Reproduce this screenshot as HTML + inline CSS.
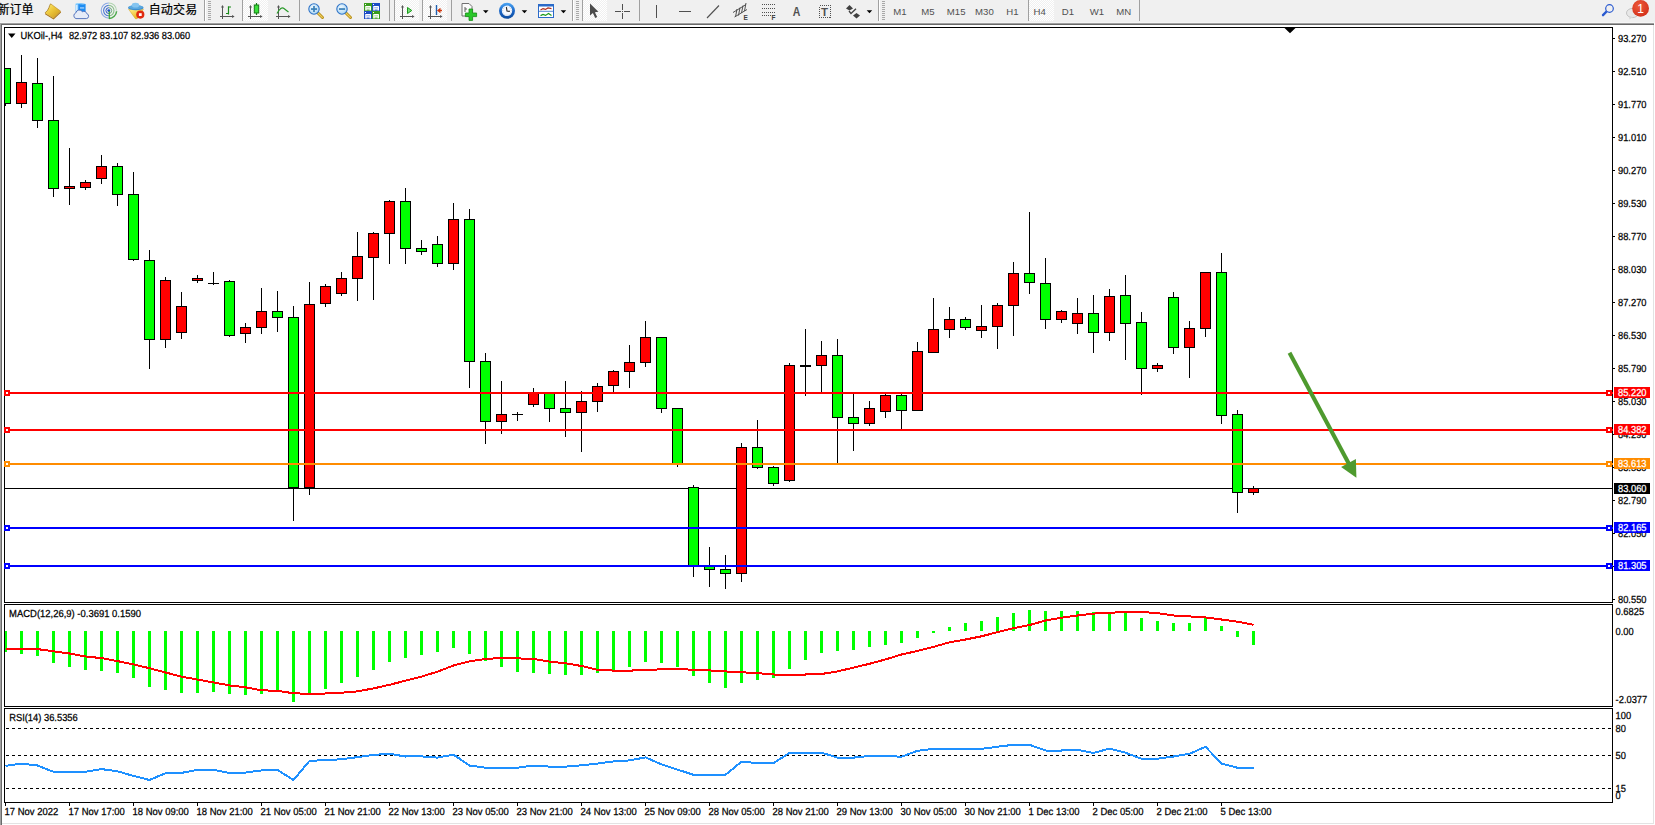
<!DOCTYPE html>
<html lang="zh"><head><meta charset="utf-8"><title>UKOil-,H4</title>
<style>
html,body{margin:0;padding:0;background:#fff;}
body{width:1655px;height:825px;position:relative;overflow:hidden;font-family:"Liberation Sans","Noto Sans CJK SC",sans-serif;}
#tb{position:absolute;left:0;top:0;width:1655px;height:22px;background:#f0f0f0;}
.ln{position:absolute;left:0;height:1px;}
.vl{position:absolute;width:1px;}
</style></head><body>
<div id="tb"></div>
<div class="ln" style="top:22px;width:1655px;background:#f6f6f6"></div>
<div class="ln" style="top:23px;width:1654px;background:#a0a0a0"></div>
<div class="ln" style="top:24px;width:1654px;background:#696969"></div>
<div class="vl" style="left:0;top:23px;height:802px;background:#a0a0a0"></div>
<div class="vl" style="left:1px;top:24px;height:801px;background:#696969"></div>
<div class="vl" style="left:1653px;top:25px;height:799px;background:#e3e3e3"></div>
<div class="ln" style="top:823px;left:2px;width:1652px;background:#e3e3e3"></div>
<svg width="1655" height="25" viewBox="0 0 1655 25" style="position:absolute;left:0;top:0"><defs>
<pattern id="chk" width="2" height="2" patternUnits="userSpaceOnUse"><rect width="2" height="2" fill="#f0f0f0"/><rect width="1" height="1" fill="#fff"/><rect x="1" y="1" width="1" height="1" fill="#fff"/></pattern>
<radialGradient id="redc" cx="0.4" cy="0.35" r="0.7"><stop offset="0" stop-color="#ee5a3a"/><stop offset="1" stop-color="#d2301a"/></radialGradient>
<linearGradient id="gold" x1="0" y1="0" x2="1" y2="1"><stop offset="0" stop-color="#fff27a"/><stop offset="0.45" stop-color="#ecc63a"/><stop offset="1" stop-color="#c8921a"/></linearGradient>
<radialGradient id="lens" cx="0.4" cy="0.35" r="0.7"><stop offset="0" stop-color="#eef8ff"/><stop offset="1" stop-color="#a8d4f2"/></radialGradient>
<linearGradient id="clk" x1="0" y1="0" x2="0" y2="1"><stop offset="0" stop-color="#4aa4f4"/><stop offset="0.55" stop-color="#1a64c4"/><stop offset="1" stop-color="#0c4a9c"/></linearGradient>
<linearGradient id="gold2" x1="0" y1="0" x2="0.6" y2="1"><stop offset="0" stop-color="#fff08a"/><stop offset="1" stop-color="#e8b41c"/></linearGradient>
</defs>
<text x="-2.5" y="14.3" font-family="Liberation Sans, Noto Sans CJK SC, sans-serif" font-size="12" fill="#000" stroke="#000" stroke-width="0.2">新订单</text>
<text x="148.7" y="14.3" font-family="Liberation Sans, Noto Sans CJK SC, sans-serif" font-size="12" letter-spacing="0.15" fill="#000" stroke="#000" stroke-width="0.2">自动交易</text>
<g><path d="M50.6,3.8 L60.7,11.2 L53.4,18.2 L45,12.9 Q48,10.6 49,7.5 Q49.6,5.2 50.6,3.8 Z" fill="url(#gold)"/><path d="M45,12.9 L53.4,18.2 L60.7,11.2 L61,12.5 L53.6,19.5 L45.1,14.2 Z" fill="#a87214"/><path d="M50.6,3.8 Q49.6,5.2 49,7.5 Q48,10.6 45,12.9" stroke="#9a6a10" stroke-width="0.7" fill="none"/><path d="M50.6,3.8 L60.7,11.2" stroke="#b8861a" stroke-width="0.6"/></g>
<g><polygon points="75.5,3.7 78.2,3 78.2,13 75.5,12.3" fill="#7cc8ff"/><polygon points="78.2,3 85.6,4 85.6,13.6 78.2,13" fill="#1f8df2"/><polygon points="75.5,3.7 78.2,3 85.6,4 83,4.5" fill="#9ad8ff"/><rect x="80" y="7.5" width="4.2" height="0.9" fill="#e8f4ff"/><rect x="76.2" y="5" width="1.2" height="6" fill="#eaf6ff"/><path d="M76,18.6 a3,3 0 0 1 -0.2,-5.7 a3.6,3.6 0 0 1 6.6,-1.2 a3,3 0 0 1 4.4,2 a2.5,2.5 0 0 1 -0.4,4.9 Z" fill="#e6ecf8" stroke="#4a6ab8" stroke-width="0.9"/></g>
<g transform="translate(108.8,10.6)" fill="none"><path d="M0,-7.6 A7.6,7.6 0 0 0 0,7.6" stroke="#8aa8e4" stroke-width="1.1"/><path d="M0,-7.6 A7.6,7.6 0 0 1 7.6,0" stroke="#b0d4b0" stroke-width="1.1"/><path d="M0,-5.2 A5.2,5.2 0 0 0 0,5.2" stroke="#4a78d4" stroke-width="1.1"/><path d="M0,-5.2 A5.2,5.2 0 0 1 0,5.2" stroke="#8ac08a" stroke-width="1.1"/><path d="M0,-2.9 A2.9,2.9 0 0 0 0,2.9" stroke="#2a5ac8" stroke-width="1"/><path d="M0,-2.9 A2.9,2.9 0 0 1 0,2.9" stroke="#6aa87a" stroke-width="1"/><circle r="1.4" fill="#1a50c8"/><path d="M0.3,7.8 A7.8,7.8 0 0 0 7.8,0.6" stroke="#4aa84a" stroke-width="1.5"/><rect x="-0.1" y="0.6" width="1.1" height="7.6" fill="#2a9a2a"/></g>
<g><polygon points="128.6,9.2 143.4,9.2 137.2,18.7 135.4,18.7" fill="url(#gold2)" stroke="#d0a020" stroke-width="0.5"/><ellipse cx="135.8" cy="7.7" rx="7.8" ry="2.5" fill="#3f8fd0"/><ellipse cx="135.8" cy="7.1" rx="7.2" ry="2" fill="#5aa8e0"/><ellipse cx="135.5" cy="5.2" rx="3.7" ry="2.4" fill="#84c4f0"/><circle cx="140.3" cy="14.6" r="4.1" fill="#e02a10"/><rect x="138.9" y="13.2" width="2.8" height="2.8" fill="#fff"/></g>
<rect x="204" y="0" width="1" height="21" fill="#a0a0a0" shape-rendering="crispEdges"/>
<rect x="205" y="0" width="1" height="21" fill="#ffffff" shape-rendering="crispEdges"/>
<rect x="208" y="1" width="3" height="1" fill="#a8a8a8" shape-rendering="crispEdges"/>
<rect x="208" y="3" width="3" height="1" fill="#a8a8a8" shape-rendering="crispEdges"/>
<rect x="208" y="5" width="3" height="1" fill="#a8a8a8" shape-rendering="crispEdges"/>
<rect x="208" y="7" width="3" height="1" fill="#a8a8a8" shape-rendering="crispEdges"/>
<rect x="208" y="9" width="3" height="1" fill="#a8a8a8" shape-rendering="crispEdges"/>
<rect x="208" y="11" width="3" height="1" fill="#a8a8a8" shape-rendering="crispEdges"/>
<rect x="208" y="13" width="3" height="1" fill="#a8a8a8" shape-rendering="crispEdges"/>
<rect x="208" y="15" width="3" height="1" fill="#a8a8a8" shape-rendering="crispEdges"/>
<rect x="208" y="17" width="3" height="1" fill="#a8a8a8" shape-rendering="crispEdges"/>
<rect x="208" y="19" width="3" height="1" fill="#a8a8a8" shape-rendering="crispEdges"/>
<g fill="#555" shape-rendering="crispEdges"><rect x="222" y="6" width="1" height="13"/><rect x="220" y="16" width="14" height="1"/></g>
<g fill="#555"><polygon points="222.5,4.9 221,7.6 224,7.6"/><polygon points="234.6,16.5 232,15 232,18"/></g>
<g stroke="#1a8a1a" stroke-width="1.2" fill="none"><path d="M228.5,6.3 V14.6 M228.5,7 H231 M226,13.5 H228.5"/></g>
<rect x="242" y="0" width="1" height="21" fill="#a0a0a0" shape-rendering="crispEdges"/>
<rect x="243" y="0" width="25" height="21" fill="url(#chk)" shape-rendering="crispEdges"/>
<g fill="#555" shape-rendering="crispEdges"><rect x="250" y="6" width="1" height="13"/><rect x="248" y="16" width="14" height="1"/></g>
<g fill="#555"><polygon points="250.5,4.9 249,7.6 252,7.6"/><polygon points="262.6,16.5 260,15 260,18"/></g>
<line x1="256.5" y1="3" x2="256.5" y2="15" stroke="#157a15" stroke-width="1.2"/><rect x="254.3" y="5" width="4.4" height="8" fill="#3ae03a" stroke="#157a15" stroke-width="1"/>
<g fill="#555" shape-rendering="crispEdges"><rect x="278" y="6" width="1" height="13"/><rect x="276" y="16" width="14" height="1"/></g>
<g fill="#555"><polygon points="278.5,4.9 277,7.6 280,7.6"/><polygon points="290.6,16.5 288,15 288,18"/></g>
<path d="M277,13.5 Q281,6 284,8.5 T288.5,12" stroke="#2a9a2a" stroke-width="1.15" fill="none"/>
<rect x="299" y="0" width="1" height="21" fill="#a0a0a0" shape-rendering="crispEdges"/>
<g transform="translate(308,3)"><line x1="9" y1="9" x2="14.5" y2="14.5" stroke="#b8901a" stroke-width="3" stroke-linecap="round"/><line x1="9.3" y1="9.3" x2="14.3" y2="14.3" stroke="#f0d060" stroke-width="1.2" stroke-linecap="round"/><circle cx="6" cy="6" r="5.2" fill="url(#lens)" stroke="#2f74c8" stroke-width="1.1"/><rect x="3" y="5.2" width="6" height="1.7" fill="#3a80b8"/><rect x="5.15" y="3" width="1.7" height="6" fill="#3a80b8"/></g>
<g transform="translate(336,3)"><line x1="9" y1="9" x2="14.5" y2="14.5" stroke="#b8901a" stroke-width="3" stroke-linecap="round"/><line x1="9.3" y1="9.3" x2="14.3" y2="14.3" stroke="#f0d060" stroke-width="1.2" stroke-linecap="round"/><circle cx="6" cy="6" r="5.2" fill="url(#lens)" stroke="#2f74c8" stroke-width="1.1"/><rect x="3" y="5.2" width="6" height="1.7" fill="#3a80b8"/></g>
<g transform="translate(364,3)"><rect x="0" y="0" width="8" height="8" fill="#3a9c1c"/><rect x="8" y="0" width="8" height="8" fill="#1c4cc4"/><rect x="0" y="8" width="8" height="8" fill="#1c4cc4"/><rect x="8" y="8" width="8" height="8" fill="#3a9c1c"/><g fill="#fff"><rect x="1.2" y="3" width="5.8" height="4.6" rx="0.6"/><rect x="9.2" y="3" width="5.8" height="4.6" rx="0.6"/><rect x="1.2" y="11" width="5.8" height="4.6" rx="0.6"/><rect x="9.2" y="11" width="5.8" height="4.6" rx="0.6"/><rect x="1" y="1" width="1" height="1"/><rect x="9" y="1" width="1" height="1"/><rect x="1" y="9" width="1" height="1"/><rect x="9" y="9" width="1" height="1"/></g><g fill="#9ad080"><rect x="2.2" y="4.4" width="3.8" height="0.9"/><rect x="10.2" y="12.4" width="3.8" height="0.9"/></g><g fill="#7a98e4"><rect x="10.2" y="4.4" width="3.8" height="0.9"/><rect x="2.2" y="12.4" width="3.8" height="0.9"/></g><g fill="#3a9c1c"><rect x="2.6" y="6.6" width="3" height="1"/><rect x="10.6" y="14.6" width="3" height="1"/></g><g fill="#1c4cc4"><rect x="10.6" y="6.6" width="3" height="1"/><rect x="2.6" y="14.6" width="3" height="1"/></g></g>
<rect x="389" y="0" width="1" height="21" fill="#a0a0a0" shape-rendering="crispEdges"/>
<rect x="394" y="0" width="1" height="21" fill="#a0a0a0" shape-rendering="crispEdges"/>
<rect x="395" y="0" width="24" height="21" fill="url(#chk)" shape-rendering="crispEdges"/>
<g fill="#555" shape-rendering="crispEdges"><rect x="402" y="6" width="1" height="13"/><rect x="400" y="16" width="14" height="1"/></g>
<g fill="#555"><polygon points="402.5,4.9 401,7.6 404,7.6"/><polygon points="414.6,16.5 412,15 412,18"/></g>
<polygon points="407.5,7.5 407.5,13.5 411.8,10.5" fill="#7ae07a" stroke="#1a9a1a" stroke-width="1"/>
<rect x="422" y="0" width="1" height="21" fill="#a0a0a0" shape-rendering="crispEdges"/>
<rect x="423" y="0" width="24" height="21" fill="url(#chk)" shape-rendering="crispEdges"/>
<g fill="#555" shape-rendering="crispEdges"><rect x="430" y="6" width="1" height="13"/><rect x="428" y="16" width="14" height="1"/></g>
<g fill="#555"><polygon points="430.5,4.9 429,7.6 432,7.6"/><polygon points="442.6,16.5 440,15 440,18"/></g>
<line x1="436.5" y1="5" x2="436.5" y2="15" stroke="#2060b0" stroke-width="1.4"/><path d="M442,10.5 H438.5 M440.5,8.5 L438,10.5 L440.5,12.5" stroke="#d03a10" stroke-width="1.3" fill="none"/>
<rect x="451" y="0" width="1" height="21" fill="#a0a0a0" shape-rendering="crispEdges"/>
<g transform="translate(461,3)"><path d="M1,0.5 H8 L11,3.5 V13 H1 Z" fill="#fafafa" stroke="#707070" stroke-width="1"/><path d="M4,4 V9 M4,6 H6" stroke="#606060" stroke-width="1" fill="none"/><path d="M8,6 H11.6 V10 H15.6 V13.6 H11.6 V17.4 H8 V13.6 H4.4 V10 H8 Z" fill="#2ac82a" stroke="#148a14" stroke-width="0.8"/></g>
<polygon points="483,10.2 488.5,10.2 485.75,13.2" fill="#000"/>
<g transform="translate(507,10.8)"><circle r="8" fill="url(#clk)"/><circle r="5.2" fill="#f6f9ff"/><g fill="#9aa4b4"><circle cx="0" cy="-4.2" r="0.45"/><circle cx="4.2" cy="0" r="0.45"/><circle cx="0" cy="4.2" r="0.45"/><circle cx="-4.2" cy="0" r="0.45"/><circle cx="2.1" cy="-3.6" r="0.35"/><circle cx="3.6" cy="2.1" r="0.35"/><circle cx="-2.1" cy="3.6" r="0.35"/><circle cx="-3.6" cy="-2.1" r="0.35"/><circle cx="-2.1" cy="-3.6" r="0.35"/><circle cx="3.6" cy="-2.1" r="0.35"/><circle cx="2.1" cy="3.6" r="0.35"/><circle cx="-3.6" cy="2.1" r="0.35"/></g><path d="M-0.6,-3.6 L0,0.2 L2.8,0.6" stroke="#202020" stroke-width="1.1" fill="none"/></g>
<polygon points="521.7,10.2 527.2,10.2 524.45,13.2" fill="#000"/>
<g transform="translate(538,4)"><rect x="0.5" y="0.5" width="15" height="13" fill="#fff" stroke="#2a6ac8" stroke-width="1"/><rect x="0.5" y="0.5" width="15" height="2" fill="#2a6ac8"/><line x1="1" y1="7.3" x2="15" y2="7.3" stroke="#2a6ac8" stroke-width="0.8"/><path d="M2.5,6 L5,4.6 L7.5,5.4 L10,4 L13.5,4.6" stroke="#b02a1a" stroke-width="1.2" fill="none"/><path d="M2.5,11.6 L5,10.4 L7.5,11.4 L10.5,9.4 L13.5,11.4" stroke="#1a9a1a" stroke-width="1.2" fill="none"/></g>
<polygon points="560.7,10.2 566.2,10.2 563.45,13.2" fill="#000"/>
<rect x="572" y="0" width="1" height="21" fill="#a0a0a0" shape-rendering="crispEdges"/>
<rect x="573" y="0" width="1" height="21" fill="#ffffff" shape-rendering="crispEdges"/>
<rect x="576" y="1" width="3" height="1" fill="#a8a8a8" shape-rendering="crispEdges"/>
<rect x="576" y="3" width="3" height="1" fill="#a8a8a8" shape-rendering="crispEdges"/>
<rect x="576" y="5" width="3" height="1" fill="#a8a8a8" shape-rendering="crispEdges"/>
<rect x="576" y="7" width="3" height="1" fill="#a8a8a8" shape-rendering="crispEdges"/>
<rect x="576" y="9" width="3" height="1" fill="#a8a8a8" shape-rendering="crispEdges"/>
<rect x="576" y="11" width="3" height="1" fill="#a8a8a8" shape-rendering="crispEdges"/>
<rect x="576" y="13" width="3" height="1" fill="#a8a8a8" shape-rendering="crispEdges"/>
<rect x="576" y="15" width="3" height="1" fill="#a8a8a8" shape-rendering="crispEdges"/>
<rect x="576" y="17" width="3" height="1" fill="#a8a8a8" shape-rendering="crispEdges"/>
<rect x="576" y="19" width="3" height="1" fill="#a8a8a8" shape-rendering="crispEdges"/>
<rect x="582" y="0" width="1" height="21" fill="#a0a0a0" shape-rendering="crispEdges"/>
<rect x="583" y="0" width="24" height="21" fill="url(#chk)" shape-rendering="crispEdges"/>
<polygon points="590,3.6 590,15.5 592.9,13 595.2,18 597.2,17.1 594.9,12.2 598.4,11.8" fill="#4c4c4c"/>
<g fill="#505050" shape-rendering="crispEdges"><rect x="622" y="4" width="1" height="6"/><rect x="622" y="13" width="1" height="6"/><rect x="615" y="11" width="6" height="1"/><rect x="624" y="11" width="6" height="1"/><rect x="622" y="11" width="1" height="1"/></g>
<rect x="639" y="0" width="1" height="21" fill="#a0a0a0" shape-rendering="crispEdges"/>
<rect x="656" y="5" width="1" height="13" fill="#505050" shape-rendering="crispEdges"/>
<rect x="679" y="11" width="12" height="1" fill="#505050" shape-rendering="crispEdges"/>
<line x1="707" y1="18" x2="719" y2="5.5" stroke="#505050" stroke-width="1.1"/>
<g stroke="#505050" stroke-width="1" fill="none"><line x1="733" y1="12.5" x2="746" y2="4.5"/><line x1="734.5" y1="17" x2="747" y2="9.5"/><line x1="737" y1="9" x2="735.5" y2="17"/><line x1="740" y1="7.5" x2="738.5" y2="15.5"/><line x1="743" y1="5.5" x2="741.5" y2="13"/><line x1="746" y1="3" x2="744.5" y2="11"/></g>
<text x="743.6" y="20" font-family="Liberation Sans, sans-serif" font-size="6.5" font-weight="bold" fill="#404040">E</text>
<line x1="762" y1="4.5" x2="775" y2="4.5" stroke="#505050" stroke-width="1" stroke-dasharray="1,1" shape-rendering="crispEdges"/>
<line x1="762" y1="8.5" x2="775" y2="8.5" stroke="#505050" stroke-width="1" stroke-dasharray="1,1" shape-rendering="crispEdges"/>
<line x1="762" y1="12.5" x2="775" y2="12.5" stroke="#505050" stroke-width="1" stroke-dasharray="1,1" shape-rendering="crispEdges"/>
<line x1="762" y1="15.5" x2="775" y2="15.5" stroke="#505050" stroke-width="1" stroke-dasharray="1,1" shape-rendering="crispEdges"/>
<text x="771.6" y="20" font-family="Liberation Sans, sans-serif" font-size="6.5" font-weight="bold" fill="#404040">F</text>
<text x="792.8" y="15.7" font-family="Liberation Sans, sans-serif" font-size="12.5" font-weight="bold" textLength="7.6" lengthAdjust="spacingAndGlyphs" fill="#505050">A</text>
<rect x="819.5" y="5.5" width="11" height="12" fill="none" stroke="#505050" stroke-width="1" stroke-dasharray="1,1" shape-rendering="crispEdges"/>
<text x="821" y="16.2" font-family="Liberation Sans, sans-serif" font-size="11.5" font-weight="bold" fill="#505050">T</text>
<g fill="#404040"><polygon points="849.5,5 853,8.5 849.5,10.5 846,8.5"/><polygon points="856.5,13 860,15.5 856.5,18.5 853,15.5"/><path d="M849,11 L851,13.5 L856,8.8" stroke="#404040" stroke-width="1.3" fill="none"/></g>
<polygon points="866.7,10.2 872.2,10.2 869.45,13.2" fill="#000"/>
<rect x="878" y="0" width="1" height="21" fill="#a0a0a0" shape-rendering="crispEdges"/>
<rect x="879" y="0" width="1" height="21" fill="#ffffff" shape-rendering="crispEdges"/>
<rect x="882" y="1" width="3" height="1" fill="#a8a8a8" shape-rendering="crispEdges"/>
<rect x="882" y="3" width="3" height="1" fill="#a8a8a8" shape-rendering="crispEdges"/>
<rect x="882" y="5" width="3" height="1" fill="#a8a8a8" shape-rendering="crispEdges"/>
<rect x="882" y="7" width="3" height="1" fill="#a8a8a8" shape-rendering="crispEdges"/>
<rect x="882" y="9" width="3" height="1" fill="#a8a8a8" shape-rendering="crispEdges"/>
<rect x="882" y="11" width="3" height="1" fill="#a8a8a8" shape-rendering="crispEdges"/>
<rect x="882" y="13" width="3" height="1" fill="#a8a8a8" shape-rendering="crispEdges"/>
<rect x="882" y="15" width="3" height="1" fill="#a8a8a8" shape-rendering="crispEdges"/>
<rect x="882" y="17" width="3" height="1" fill="#a8a8a8" shape-rendering="crispEdges"/>
<rect x="882" y="19" width="3" height="1" fill="#a8a8a8" shape-rendering="crispEdges"/>
<rect x="1028" y="0" width="1" height="21" fill="#a0a0a0" shape-rendering="crispEdges"/>
<rect x="1029" y="0" width="24.5" height="21" fill="url(#chk)" shape-rendering="crispEdges"/>
<text x="899.9" y="14.7" text-anchor="middle" font-family="Liberation Sans, sans-serif" font-size="9.6" fill="#505050">M1</text>
<text x="928" y="14.7" text-anchor="middle" font-family="Liberation Sans, sans-serif" font-size="9.6" fill="#505050">M5</text>
<text x="956.2" y="14.7" text-anchor="middle" font-family="Liberation Sans, sans-serif" font-size="9.6" fill="#505050">M15</text>
<text x="984.4" y="14.7" text-anchor="middle" font-family="Liberation Sans, sans-serif" font-size="9.6" fill="#505050">M30</text>
<text x="1012.4" y="14.7" text-anchor="middle" font-family="Liberation Sans, sans-serif" font-size="9.6" fill="#505050">H1</text>
<text x="1039.7" y="14.7" text-anchor="middle" font-family="Liberation Sans, sans-serif" font-size="9.6" fill="#505050">H4</text>
<text x="1068" y="14.7" text-anchor="middle" font-family="Liberation Sans, sans-serif" font-size="9.6" fill="#505050">D1</text>
<text x="1097" y="14.7" text-anchor="middle" font-family="Liberation Sans, sans-serif" font-size="9.6" fill="#505050">W1</text>
<text x="1123.7" y="14.7" text-anchor="middle" font-family="Liberation Sans, sans-serif" font-size="9.6" fill="#505050">MN</text>
<rect x="1139" y="0" width="1" height="21" fill="#a0a0a0" shape-rendering="crispEdges"/>
<g><line x1="1603" y1="15.2" x2="1607" y2="11" stroke="#2a5ad0" stroke-width="2.4" stroke-linecap="round"/><circle cx="1609.5" cy="8.5" r="3.8" fill="#f0f0f0" stroke="#2a5ad0" stroke-width="1.2"/></g>
<g><ellipse cx="1632.5" cy="13" rx="6" ry="4.6" fill="#e8e8e8" stroke="#b8b8b8" stroke-width="0.8"/><polygon points="1629,16.5 1629.5,19.5 1633,17" fill="#d8d8d8"/><circle cx="1640.6" cy="8.4" r="8.4" fill="url(#redc)"/>
<text x="1640.6" y="12.6" text-anchor="middle" font-family="Liberation Sans, sans-serif" font-size="12" fill="#fff">1</text></g></svg>
<svg width="1655" height="825" viewBox="0 0 1655 825" style="position:absolute;left:0;top:0"><g shape-rendering="crispEdges">
<rect x="4" y="27" width="1609" height="1" fill="#000"/>
<rect x="4" y="602" width="1609" height="1" fill="#000"/>
<rect x="4" y="27" width="1" height="576" fill="#000"/>
<rect x="1612" y="27" width="1" height="576" fill="#000"/>
<rect x="4" y="604" width="1609" height="1" fill="#000"/>
<rect x="4" y="706" width="1609" height="1" fill="#000"/>
<rect x="4" y="604" width="1" height="103" fill="#000"/>
<rect x="1612" y="604" width="1" height="103" fill="#000"/>
<rect x="4" y="708" width="1609" height="1" fill="#000"/>
<rect x="4" y="802" width="1609" height="1" fill="#000"/>
<rect x="4" y="708" width="1" height="95" fill="#000"/>
<rect x="1612" y="708" width="1" height="95" fill="#000"/>
<clipPath id="cp"><rect x="5" y="28" width="1607" height="574"/></clipPath>
<rect x="5" y="488" width="1607" height="1" fill="#000"/>
<g clip-path="url(#cp)">
<rect x="5" y="68" width="1" height="38" fill="#000"/>
<rect x="0" y="68" width="11" height="36" fill="#000"/>
<rect x="1" y="69" width="9" height="34" fill="#00ff00"/>
<rect x="21" y="55" width="1" height="53" fill="#000"/>
<rect x="16" y="82" width="11" height="22" fill="#000"/>
<rect x="17" y="83" width="9" height="20" fill="#ff0000"/>
<rect x="37" y="58" width="1" height="70" fill="#000"/>
<rect x="32" y="83" width="11" height="38" fill="#000"/>
<rect x="33" y="84" width="9" height="36" fill="#00ff00"/>
<rect x="53" y="76" width="1" height="121" fill="#000"/>
<rect x="48" y="120" width="11" height="69" fill="#000"/>
<rect x="49" y="121" width="9" height="67" fill="#00ff00"/>
<rect x="69" y="148" width="1" height="57" fill="#000"/>
<rect x="64" y="186" width="11" height="3" fill="#000"/>
<rect x="65" y="187" width="9" height="1" fill="#ff0000"/>
<rect x="85" y="180" width="1" height="10" fill="#000"/>
<rect x="80" y="182" width="11" height="6" fill="#000"/>
<rect x="81" y="183" width="9" height="4" fill="#ff0000"/>
<rect x="101" y="155" width="1" height="29" fill="#000"/>
<rect x="96" y="166" width="11" height="13" fill="#000"/>
<rect x="97" y="167" width="9" height="11" fill="#ff0000"/>
<rect x="117" y="163" width="1" height="43" fill="#000"/>
<rect x="112" y="166" width="11" height="29" fill="#000"/>
<rect x="113" y="167" width="9" height="27" fill="#00ff00"/>
<rect x="133" y="172" width="1" height="89" fill="#000"/>
<rect x="128" y="194" width="11" height="66" fill="#000"/>
<rect x="129" y="195" width="9" height="64" fill="#00ff00"/>
<rect x="149" y="250" width="1" height="119" fill="#000"/>
<rect x="144" y="260" width="11" height="80" fill="#000"/>
<rect x="145" y="261" width="9" height="78" fill="#00ff00"/>
<rect x="165" y="277" width="1" height="71" fill="#000"/>
<rect x="160" y="280" width="11" height="60" fill="#000"/>
<rect x="161" y="281" width="9" height="58" fill="#ff0000"/>
<rect x="181" y="292" width="1" height="47" fill="#000"/>
<rect x="176" y="306" width="11" height="27" fill="#000"/>
<rect x="177" y="307" width="9" height="25" fill="#ff0000"/>
<rect x="197" y="275" width="1" height="8" fill="#000"/>
<rect x="192" y="278" width="11" height="3" fill="#000"/>
<rect x="193" y="279" width="9" height="1" fill="#ff0000"/>
<rect x="213" y="272" width="1" height="13" fill="#000"/>
<rect x="208" y="283" width="11" height="1" fill="#000"/>
<rect x="229" y="280" width="1" height="57" fill="#000"/>
<rect x="224" y="281" width="11" height="55" fill="#000"/>
<rect x="225" y="282" width="9" height="53" fill="#00ff00"/>
<rect x="245" y="323" width="1" height="20" fill="#000"/>
<rect x="240" y="327" width="11" height="7" fill="#000"/>
<rect x="241" y="328" width="9" height="5" fill="#ff0000"/>
<rect x="261" y="288" width="1" height="46" fill="#000"/>
<rect x="256" y="311" width="11" height="17" fill="#000"/>
<rect x="257" y="312" width="9" height="15" fill="#ff0000"/>
<rect x="277" y="291" width="1" height="41" fill="#000"/>
<rect x="272" y="311" width="11" height="7" fill="#000"/>
<rect x="273" y="312" width="9" height="5" fill="#00ff00"/>
<rect x="293" y="306" width="1" height="215" fill="#000"/>
<rect x="288" y="317" width="11" height="171" fill="#000"/>
<rect x="289" y="318" width="9" height="169" fill="#00ff00"/>
<rect x="309" y="282" width="1" height="213" fill="#000"/>
<rect x="304" y="304" width="11" height="184" fill="#000"/>
<rect x="305" y="305" width="9" height="182" fill="#ff0000"/>
<rect x="325" y="284" width="1" height="23" fill="#000"/>
<rect x="320" y="286" width="11" height="18" fill="#000"/>
<rect x="321" y="287" width="9" height="16" fill="#ff0000"/>
<rect x="341" y="272" width="1" height="24" fill="#000"/>
<rect x="336" y="278" width="11" height="16" fill="#000"/>
<rect x="337" y="279" width="9" height="14" fill="#ff0000"/>
<rect x="357" y="232" width="1" height="69" fill="#000"/>
<rect x="352" y="256" width="11" height="23" fill="#000"/>
<rect x="353" y="257" width="9" height="21" fill="#ff0000"/>
<rect x="373" y="232" width="1" height="68" fill="#000"/>
<rect x="368" y="233" width="11" height="25" fill="#000"/>
<rect x="369" y="234" width="9" height="23" fill="#ff0000"/>
<rect x="389" y="200" width="1" height="64" fill="#000"/>
<rect x="384" y="201" width="11" height="33" fill="#000"/>
<rect x="385" y="202" width="9" height="31" fill="#ff0000"/>
<rect x="405" y="188" width="1" height="76" fill="#000"/>
<rect x="400" y="201" width="11" height="48" fill="#000"/>
<rect x="401" y="202" width="9" height="46" fill="#00ff00"/>
<rect x="421" y="240" width="1" height="15" fill="#000"/>
<rect x="416" y="248" width="11" height="4" fill="#000"/>
<rect x="417" y="249" width="9" height="2" fill="#00ff00"/>
<rect x="437" y="236" width="1" height="31" fill="#000"/>
<rect x="432" y="244" width="11" height="20" fill="#000"/>
<rect x="433" y="245" width="9" height="18" fill="#00ff00"/>
<rect x="453" y="203" width="1" height="67" fill="#000"/>
<rect x="448" y="219" width="11" height="45" fill="#000"/>
<rect x="449" y="220" width="9" height="43" fill="#ff0000"/>
<rect x="469" y="209" width="1" height="179" fill="#000"/>
<rect x="464" y="219" width="11" height="143" fill="#000"/>
<rect x="465" y="220" width="9" height="141" fill="#00ff00"/>
<rect x="485" y="353" width="1" height="91" fill="#000"/>
<rect x="480" y="361" width="11" height="61" fill="#000"/>
<rect x="481" y="362" width="9" height="59" fill="#00ff00"/>
<rect x="501" y="381" width="1" height="53" fill="#000"/>
<rect x="496" y="414" width="11" height="8" fill="#000"/>
<rect x="497" y="415" width="9" height="6" fill="#ff0000"/>
<rect x="517" y="412" width="1" height="9" fill="#000"/>
<rect x="512" y="414" width="11" height="1" fill="#000"/>
<rect x="533" y="388" width="1" height="19" fill="#000"/>
<rect x="528" y="393" width="11" height="12" fill="#000"/>
<rect x="529" y="394" width="9" height="10" fill="#ff0000"/>
<rect x="549" y="393" width="1" height="29" fill="#000"/>
<rect x="544" y="393" width="11" height="16" fill="#000"/>
<rect x="545" y="394" width="9" height="14" fill="#00ff00"/>
<rect x="565" y="381" width="1" height="56" fill="#000"/>
<rect x="560" y="408" width="11" height="5" fill="#000"/>
<rect x="561" y="409" width="9" height="3" fill="#00ff00"/>
<rect x="581" y="391" width="1" height="61" fill="#000"/>
<rect x="576" y="401" width="11" height="12" fill="#000"/>
<rect x="577" y="402" width="9" height="10" fill="#ff0000"/>
<rect x="597" y="383" width="1" height="29" fill="#000"/>
<rect x="592" y="386" width="11" height="16" fill="#000"/>
<rect x="593" y="387" width="9" height="14" fill="#ff0000"/>
<rect x="613" y="370" width="1" height="22" fill="#000"/>
<rect x="608" y="371" width="11" height="15" fill="#000"/>
<rect x="609" y="372" width="9" height="13" fill="#ff0000"/>
<rect x="629" y="345" width="1" height="43" fill="#000"/>
<rect x="624" y="362" width="11" height="10" fill="#000"/>
<rect x="625" y="363" width="9" height="8" fill="#ff0000"/>
<rect x="645" y="321" width="1" height="46" fill="#000"/>
<rect x="640" y="337" width="11" height="26" fill="#000"/>
<rect x="641" y="338" width="9" height="24" fill="#ff0000"/>
<rect x="661" y="337" width="1" height="76" fill="#000"/>
<rect x="656" y="337" width="11" height="72" fill="#000"/>
<rect x="657" y="338" width="9" height="70" fill="#00ff00"/>
<rect x="677" y="408" width="1" height="59" fill="#000"/>
<rect x="672" y="408" width="11" height="56" fill="#000"/>
<rect x="673" y="409" width="9" height="54" fill="#00ff00"/>
<rect x="693" y="485" width="1" height="92" fill="#000"/>
<rect x="688" y="487" width="11" height="79" fill="#000"/>
<rect x="689" y="488" width="9" height="77" fill="#00ff00"/>
<rect x="709" y="547" width="1" height="40" fill="#000"/>
<rect x="704" y="566" width="11" height="4" fill="#000"/>
<rect x="705" y="567" width="9" height="2" fill="#00ff00"/>
<rect x="725" y="555" width="1" height="34" fill="#000"/>
<rect x="720" y="569" width="11" height="5" fill="#000"/>
<rect x="721" y="570" width="9" height="3" fill="#00ff00"/>
<rect x="741" y="443" width="1" height="139" fill="#000"/>
<rect x="736" y="447" width="11" height="127" fill="#000"/>
<rect x="737" y="448" width="9" height="125" fill="#ff0000"/>
<rect x="757" y="420" width="1" height="49" fill="#000"/>
<rect x="752" y="447" width="11" height="21" fill="#000"/>
<rect x="753" y="448" width="9" height="19" fill="#00ff00"/>
<rect x="773" y="466" width="1" height="20" fill="#000"/>
<rect x="768" y="467" width="11" height="17" fill="#000"/>
<rect x="769" y="468" width="9" height="15" fill="#00ff00"/>
<rect x="789" y="363" width="1" height="119" fill="#000"/>
<rect x="784" y="365" width="11" height="116" fill="#000"/>
<rect x="785" y="366" width="9" height="114" fill="#ff0000"/>
<rect x="805" y="329" width="1" height="67" fill="#000"/>
<rect x="800" y="365" width="11" height="2" fill="#000"/>
<rect x="821" y="341" width="1" height="51" fill="#000"/>
<rect x="816" y="355" width="11" height="11" fill="#000"/>
<rect x="817" y="356" width="9" height="9" fill="#ff0000"/>
<rect x="837" y="339" width="1" height="124" fill="#000"/>
<rect x="832" y="355" width="11" height="63" fill="#000"/>
<rect x="833" y="356" width="9" height="61" fill="#00ff00"/>
<rect x="853" y="394" width="1" height="57" fill="#000"/>
<rect x="848" y="417" width="11" height="7" fill="#000"/>
<rect x="849" y="418" width="9" height="5" fill="#00ff00"/>
<rect x="869" y="401" width="1" height="25" fill="#000"/>
<rect x="864" y="408" width="11" height="16" fill="#000"/>
<rect x="865" y="409" width="9" height="14" fill="#ff0000"/>
<rect x="885" y="394" width="1" height="24" fill="#000"/>
<rect x="880" y="395" width="11" height="17" fill="#000"/>
<rect x="881" y="396" width="9" height="15" fill="#ff0000"/>
<rect x="901" y="394" width="1" height="35" fill="#000"/>
<rect x="896" y="395" width="11" height="16" fill="#000"/>
<rect x="897" y="396" width="9" height="14" fill="#00ff00"/>
<rect x="917" y="342" width="1" height="69" fill="#000"/>
<rect x="912" y="351" width="11" height="60" fill="#000"/>
<rect x="913" y="352" width="9" height="58" fill="#ff0000"/>
<rect x="933" y="298" width="1" height="55" fill="#000"/>
<rect x="928" y="329" width="11" height="24" fill="#000"/>
<rect x="929" y="330" width="9" height="22" fill="#ff0000"/>
<rect x="949" y="307" width="1" height="31" fill="#000"/>
<rect x="944" y="319" width="11" height="11" fill="#000"/>
<rect x="945" y="320" width="9" height="9" fill="#ff0000"/>
<rect x="965" y="317" width="1" height="13" fill="#000"/>
<rect x="960" y="319" width="11" height="9" fill="#000"/>
<rect x="961" y="320" width="9" height="7" fill="#00ff00"/>
<rect x="981" y="305" width="1" height="33" fill="#000"/>
<rect x="976" y="326" width="11" height="5" fill="#000"/>
<rect x="977" y="327" width="9" height="3" fill="#ff0000"/>
<rect x="997" y="303" width="1" height="46" fill="#000"/>
<rect x="992" y="305" width="11" height="22" fill="#000"/>
<rect x="993" y="306" width="9" height="20" fill="#ff0000"/>
<rect x="1013" y="262" width="1" height="74" fill="#000"/>
<rect x="1008" y="273" width="11" height="33" fill="#000"/>
<rect x="1009" y="274" width="9" height="31" fill="#ff0000"/>
<rect x="1029" y="212" width="1" height="82" fill="#000"/>
<rect x="1024" y="273" width="11" height="10" fill="#000"/>
<rect x="1025" y="274" width="9" height="8" fill="#00ff00"/>
<rect x="1045" y="258" width="1" height="71" fill="#000"/>
<rect x="1040" y="283" width="11" height="37" fill="#000"/>
<rect x="1041" y="284" width="9" height="35" fill="#00ff00"/>
<rect x="1061" y="310" width="1" height="13" fill="#000"/>
<rect x="1056" y="311" width="11" height="9" fill="#000"/>
<rect x="1057" y="312" width="9" height="7" fill="#ff0000"/>
<rect x="1077" y="298" width="1" height="36" fill="#000"/>
<rect x="1072" y="313" width="11" height="11" fill="#000"/>
<rect x="1073" y="314" width="9" height="9" fill="#ff0000"/>
<rect x="1093" y="295" width="1" height="58" fill="#000"/>
<rect x="1088" y="313" width="11" height="20" fill="#000"/>
<rect x="1089" y="314" width="9" height="18" fill="#00ff00"/>
<rect x="1109" y="289" width="1" height="52" fill="#000"/>
<rect x="1104" y="296" width="11" height="37" fill="#000"/>
<rect x="1105" y="297" width="9" height="35" fill="#ff0000"/>
<rect x="1125" y="275" width="1" height="85" fill="#000"/>
<rect x="1120" y="295" width="11" height="29" fill="#000"/>
<rect x="1121" y="296" width="9" height="27" fill="#00ff00"/>
<rect x="1141" y="312" width="1" height="83" fill="#000"/>
<rect x="1136" y="322" width="11" height="47" fill="#000"/>
<rect x="1137" y="323" width="9" height="45" fill="#00ff00"/>
<rect x="1157" y="363" width="1" height="9" fill="#000"/>
<rect x="1152" y="365" width="11" height="4" fill="#000"/>
<rect x="1153" y="366" width="9" height="2" fill="#ff0000"/>
<rect x="1173" y="292" width="1" height="62" fill="#000"/>
<rect x="1168" y="297" width="11" height="51" fill="#000"/>
<rect x="1169" y="298" width="9" height="49" fill="#00ff00"/>
<rect x="1189" y="321" width="1" height="57" fill="#000"/>
<rect x="1184" y="328" width="11" height="20" fill="#000"/>
<rect x="1185" y="329" width="9" height="18" fill="#ff0000"/>
<rect x="1205" y="272" width="1" height="65" fill="#000"/>
<rect x="1200" y="272" width="11" height="57" fill="#000"/>
<rect x="1201" y="273" width="9" height="55" fill="#ff0000"/>
<rect x="1221" y="253" width="1" height="171" fill="#000"/>
<rect x="1216" y="272" width="11" height="144" fill="#000"/>
<rect x="1217" y="273" width="9" height="142" fill="#00ff00"/>
<rect x="1237" y="410" width="1" height="103" fill="#000"/>
<rect x="1232" y="414" width="11" height="79" fill="#000"/>
<rect x="1233" y="415" width="9" height="77" fill="#00ff00"/>
<rect x="1253" y="486" width="1" height="9" fill="#000"/>
<rect x="1248" y="488" width="11" height="5" fill="#000"/>
<rect x="1249" y="489" width="9" height="3" fill="#ff0000"/>
</g>
<rect x="5" y="392" width="1608" height="2" fill="#ff0000"/>
<rect x="4" y="390" width="6" height="6" fill="#ff0000"/>
<rect x="6" y="392" width="2" height="2" fill="#fff"/>
<rect x="1606" y="390" width="6" height="6" fill="#ff0000"/>
<rect x="1608" y="392" width="2" height="2" fill="#fff"/>
<rect x="5" y="429" width="1608" height="2" fill="#ff0000"/>
<rect x="4" y="427" width="6" height="6" fill="#ff0000"/>
<rect x="6" y="429" width="2" height="2" fill="#fff"/>
<rect x="1606" y="427" width="6" height="6" fill="#ff0000"/>
<rect x="1608" y="429" width="2" height="2" fill="#fff"/>
<rect x="5" y="463" width="1608" height="2" fill="#ff8c00"/>
<rect x="4" y="461" width="6" height="6" fill="#ff8c00"/>
<rect x="6" y="463" width="2" height="2" fill="#fff"/>
<rect x="1606" y="461" width="6" height="6" fill="#ff8c00"/>
<rect x="1608" y="463" width="2" height="2" fill="#fff"/>
<rect x="5" y="527" width="1608" height="2" fill="#0000ff"/>
<rect x="4" y="525" width="6" height="6" fill="#0000ff"/>
<rect x="6" y="527" width="2" height="2" fill="#fff"/>
<rect x="1606" y="525" width="6" height="6" fill="#0000ff"/>
<rect x="1608" y="527" width="2" height="2" fill="#fff"/>
<rect x="5" y="565" width="1608" height="2" fill="#0000ff"/>
<rect x="4" y="563" width="6" height="6" fill="#0000ff"/>
<rect x="6" y="565" width="2" height="2" fill="#fff"/>
<rect x="1606" y="563" width="6" height="6" fill="#0000ff"/>
<rect x="1608" y="565" width="2" height="2" fill="#fff"/>
<polygon points="1284.5,28 1295.5,28 1290,33.2" fill="#000" shape-rendering="geometricPrecision"/>
</g>
<rect x="1613" y="38" width="2" height="1" fill="#000" shape-rendering="crispEdges"/>
<text transform="translate(1618,42) rotate(0.05) scale(0.9147,1)" font-family="Liberation Sans, sans-serif" font-size="10.2" fill="#000" stroke="#000" stroke-width="0.25">93.270</text>
<rect x="1613" y="71" width="2" height="1" fill="#000" shape-rendering="crispEdges"/>
<text transform="translate(1618,75) rotate(0.05) scale(0.9147,1)" font-family="Liberation Sans, sans-serif" font-size="10.2" fill="#000" stroke="#000" stroke-width="0.25">92.510</text>
<rect x="1613" y="104" width="2" height="1" fill="#000" shape-rendering="crispEdges"/>
<text transform="translate(1618,108) rotate(0.05) scale(0.9147,1)" font-family="Liberation Sans, sans-serif" font-size="10.2" fill="#000" stroke="#000" stroke-width="0.25">91.770</text>
<rect x="1613" y="137" width="2" height="1" fill="#000" shape-rendering="crispEdges"/>
<text transform="translate(1618,141) rotate(0.05) scale(0.9147,1)" font-family="Liberation Sans, sans-serif" font-size="10.2" fill="#000" stroke="#000" stroke-width="0.25">91.010</text>
<rect x="1613" y="170" width="2" height="1" fill="#000" shape-rendering="crispEdges"/>
<text transform="translate(1618,174) rotate(0.05) scale(0.9147,1)" font-family="Liberation Sans, sans-serif" font-size="10.2" fill="#000" stroke="#000" stroke-width="0.25">90.270</text>
<rect x="1613" y="203" width="2" height="1" fill="#000" shape-rendering="crispEdges"/>
<text transform="translate(1618,207) rotate(0.05) scale(0.9147,1)" font-family="Liberation Sans, sans-serif" font-size="10.2" fill="#000" stroke="#000" stroke-width="0.25">89.530</text>
<rect x="1613" y="236" width="2" height="1" fill="#000" shape-rendering="crispEdges"/>
<text transform="translate(1618,240) rotate(0.05) scale(0.9147,1)" font-family="Liberation Sans, sans-serif" font-size="10.2" fill="#000" stroke="#000" stroke-width="0.25">88.770</text>
<rect x="1613" y="269" width="2" height="1" fill="#000" shape-rendering="crispEdges"/>
<text transform="translate(1618,273) rotate(0.05) scale(0.9147,1)" font-family="Liberation Sans, sans-serif" font-size="10.2" fill="#000" stroke="#000" stroke-width="0.25">88.030</text>
<rect x="1613" y="302" width="2" height="1" fill="#000" shape-rendering="crispEdges"/>
<text transform="translate(1618,306) rotate(0.05) scale(0.9147,1)" font-family="Liberation Sans, sans-serif" font-size="10.2" fill="#000" stroke="#000" stroke-width="0.25">87.270</text>
<rect x="1613" y="335" width="2" height="1" fill="#000" shape-rendering="crispEdges"/>
<text transform="translate(1618,339) rotate(0.05) scale(0.9147,1)" font-family="Liberation Sans, sans-serif" font-size="10.2" fill="#000" stroke="#000" stroke-width="0.25">86.530</text>
<rect x="1613" y="368" width="2" height="1" fill="#000" shape-rendering="crispEdges"/>
<text transform="translate(1618,372) rotate(0.05) scale(0.9147,1)" font-family="Liberation Sans, sans-serif" font-size="10.2" fill="#000" stroke="#000" stroke-width="0.25">85.790</text>
<rect x="1613" y="401" width="2" height="1" fill="#000" shape-rendering="crispEdges"/>
<text transform="translate(1618,405) rotate(0.05) scale(0.9147,1)" font-family="Liberation Sans, sans-serif" font-size="10.2" fill="#000" stroke="#000" stroke-width="0.25">85.030</text>
<rect x="1613" y="434" width="2" height="1" fill="#000" shape-rendering="crispEdges"/>
<text transform="translate(1618,438) rotate(0.05) scale(0.9147,1)" font-family="Liberation Sans, sans-serif" font-size="10.2" fill="#000" stroke="#000" stroke-width="0.25">84.290</text>
<rect x="1613" y="467" width="2" height="1" fill="#000" shape-rendering="crispEdges"/>
<text transform="translate(1618,471) rotate(0.05) scale(0.9147,1)" font-family="Liberation Sans, sans-serif" font-size="10.2" fill="#000" stroke="#000" stroke-width="0.25">83.530</text>
<rect x="1613" y="500" width="2" height="1" fill="#000" shape-rendering="crispEdges"/>
<text transform="translate(1618,504) rotate(0.05) scale(0.9147,1)" font-family="Liberation Sans, sans-serif" font-size="10.2" fill="#000" stroke="#000" stroke-width="0.25">82.790</text>
<rect x="1613" y="533" width="2" height="1" fill="#000" shape-rendering="crispEdges"/>
<text transform="translate(1618,537) rotate(0.05) scale(0.9147,1)" font-family="Liberation Sans, sans-serif" font-size="10.2" fill="#000" stroke="#000" stroke-width="0.25">82.050</text>
<rect x="1613" y="566" width="2" height="1" fill="#000" shape-rendering="crispEdges"/>
<text transform="translate(1618,570) rotate(0.05) scale(0.9147,1)" font-family="Liberation Sans, sans-serif" font-size="10.2" fill="#000" stroke="#000" stroke-width="0.25">81.290</text>
<rect x="1613" y="599" width="2" height="1" fill="#000" shape-rendering="crispEdges"/>
<text transform="translate(1618,603) rotate(0.05) scale(0.9147,1)" font-family="Liberation Sans, sans-serif" font-size="10.2" fill="#000" stroke="#000" stroke-width="0.25">80.550</text>
<rect x="1614" y="387" width="36" height="11" fill="#ff0000" shape-rendering="crispEdges"/>
<text transform="translate(1618,396) rotate(0.05) scale(0.9147,1)" font-family="Liberation Sans, sans-serif" font-size="10.2" fill="#fff" stroke="#fff" stroke-width="0.25">85.220</text>
<rect x="1614" y="424" width="36" height="11" fill="#ff0000" shape-rendering="crispEdges"/>
<text transform="translate(1618,433) rotate(0.05) scale(0.9147,1)" font-family="Liberation Sans, sans-serif" font-size="10.2" fill="#fff" stroke="#fff" stroke-width="0.25">84.382</text>
<rect x="1614" y="458" width="36" height="11" fill="#ff8c00" shape-rendering="crispEdges"/>
<text transform="translate(1618,467) rotate(0.05) scale(0.9147,1)" font-family="Liberation Sans, sans-serif" font-size="10.2" fill="#fff" stroke="#fff" stroke-width="0.25">83.613</text>
<rect x="1614" y="483" width="36" height="11" fill="#000" shape-rendering="crispEdges"/>
<text transform="translate(1618,492) rotate(0.05) scale(0.9147,1)" font-family="Liberation Sans, sans-serif" font-size="10.2" fill="#fff" stroke="#fff" stroke-width="0.25">83.060</text>
<rect x="1614" y="522" width="36" height="11" fill="#0000ff" shape-rendering="crispEdges"/>
<text transform="translate(1618,531) rotate(0.05) scale(0.9147,1)" font-family="Liberation Sans, sans-serif" font-size="10.2" fill="#fff" stroke="#fff" stroke-width="0.25">82.165</text>
<rect x="1614" y="560" width="36" height="11" fill="#0000ff" shape-rendering="crispEdges"/>
<text transform="translate(1618,569) rotate(0.05) scale(0.9147,1)" font-family="Liberation Sans, sans-serif" font-size="10.2" fill="#fff" stroke="#fff" stroke-width="0.25">81.305</text>
<polygon points="8,33.5 15.5,33.5 11.75,38" fill="#000"/>
<text transform="translate(20.6,39) rotate(0.05) scale(0.9147,1)" font-family="Liberation Sans, sans-serif" font-size="10.2" fill="#000" stroke="#000" stroke-width="0.25">UKOil-,H4</text>
<text transform="translate(68.9,39) rotate(0.05) scale(0.9099,1)" font-family="Liberation Sans, sans-serif" font-size="10.2" fill="#000" stroke="#000" stroke-width="0.25">82.972 83.107 82.936 83.060</text>
<g shape-rendering="crispEdges">
<rect x="5" y="631" width="2" height="21" fill="#00ff00"/>
<rect x="20" y="631" width="3" height="23" fill="#00ff00"/>
<rect x="36" y="631" width="3" height="25" fill="#00ff00"/>
<rect x="52" y="631" width="3" height="32" fill="#00ff00"/>
<rect x="68" y="631" width="3" height="36" fill="#00ff00"/>
<rect x="84" y="631" width="3" height="39" fill="#00ff00"/>
<rect x="100" y="631" width="3" height="40" fill="#00ff00"/>
<rect x="116" y="631" width="3" height="42" fill="#00ff00"/>
<rect x="132" y="631" width="3" height="47" fill="#00ff00"/>
<rect x="148" y="631" width="3" height="56" fill="#00ff00"/>
<rect x="164" y="631" width="3" height="59" fill="#00ff00"/>
<rect x="180" y="631" width="3" height="62" fill="#00ff00"/>
<rect x="196" y="631" width="3" height="62" fill="#00ff00"/>
<rect x="212" y="631" width="3" height="61" fill="#00ff00"/>
<rect x="228" y="631" width="3" height="63" fill="#00ff00"/>
<rect x="244" y="631" width="3" height="64" fill="#00ff00"/>
<rect x="260" y="631" width="3" height="63" fill="#00ff00"/>
<rect x="276" y="631" width="3" height="60" fill="#00ff00"/>
<rect x="292" y="631" width="3" height="71" fill="#00ff00"/>
<rect x="308" y="631" width="3" height="64" fill="#00ff00"/>
<rect x="324" y="631" width="3" height="58" fill="#00ff00"/>
<rect x="340" y="631" width="3" height="52" fill="#00ff00"/>
<rect x="356" y="631" width="3" height="46" fill="#00ff00"/>
<rect x="372" y="631" width="3" height="39" fill="#00ff00"/>
<rect x="388" y="631" width="3" height="31" fill="#00ff00"/>
<rect x="404" y="631" width="3" height="27" fill="#00ff00"/>
<rect x="420" y="631" width="3" height="24" fill="#00ff00"/>
<rect x="436" y="631" width="3" height="21" fill="#00ff00"/>
<rect x="452" y="631" width="3" height="17" fill="#00ff00"/>
<rect x="468" y="631" width="3" height="23" fill="#00ff00"/>
<rect x="484" y="631" width="3" height="30" fill="#00ff00"/>
<rect x="500" y="631" width="3" height="36" fill="#00ff00"/>
<rect x="516" y="631" width="3" height="41" fill="#00ff00"/>
<rect x="532" y="631" width="3" height="42" fill="#00ff00"/>
<rect x="548" y="631" width="3" height="43" fill="#00ff00"/>
<rect x="564" y="631" width="3" height="44" fill="#00ff00"/>
<rect x="580" y="631" width="3" height="44" fill="#00ff00"/>
<rect x="596" y="631" width="3" height="42" fill="#00ff00"/>
<rect x="612" y="631" width="3" height="39" fill="#00ff00"/>
<rect x="628" y="631" width="3" height="36" fill="#00ff00"/>
<rect x="644" y="631" width="3" height="31" fill="#00ff00"/>
<rect x="660" y="631" width="3" height="32" fill="#00ff00"/>
<rect x="676" y="631" width="3" height="36" fill="#00ff00"/>
<rect x="692" y="631" width="3" height="45" fill="#00ff00"/>
<rect x="708" y="631" width="3" height="52" fill="#00ff00"/>
<rect x="724" y="631" width="3" height="57" fill="#00ff00"/>
<rect x="740" y="631" width="3" height="52" fill="#00ff00"/>
<rect x="756" y="631" width="3" height="49" fill="#00ff00"/>
<rect x="772" y="631" width="3" height="47" fill="#00ff00"/>
<rect x="788" y="631" width="3" height="38" fill="#00ff00"/>
<rect x="804" y="631" width="3" height="29" fill="#00ff00"/>
<rect x="820" y="631" width="3" height="22" fill="#00ff00"/>
<rect x="836" y="631" width="3" height="20" fill="#00ff00"/>
<rect x="852" y="631" width="3" height="19" fill="#00ff00"/>
<rect x="868" y="631" width="3" height="16" fill="#00ff00"/>
<rect x="884" y="631" width="3" height="14" fill="#00ff00"/>
<rect x="900" y="631" width="3" height="12" fill="#00ff00"/>
<rect x="916" y="631" width="3" height="7" fill="#00ff00"/>
<rect x="932" y="631" width="3" height="2" fill="#00ff00"/>
<rect x="948" y="627" width="3" height="4" fill="#00ff00"/>
<rect x="964" y="623" width="3" height="8" fill="#00ff00"/>
<rect x="980" y="621" width="3" height="10" fill="#00ff00"/>
<rect x="996" y="617" width="3" height="14" fill="#00ff00"/>
<rect x="1012" y="613" width="3" height="18" fill="#00ff00"/>
<rect x="1028" y="610" width="3" height="21" fill="#00ff00"/>
<rect x="1044" y="611" width="3" height="20" fill="#00ff00"/>
<rect x="1060" y="611" width="3" height="20" fill="#00ff00"/>
<rect x="1076" y="611" width="3" height="20" fill="#00ff00"/>
<rect x="1092" y="612" width="3" height="19" fill="#00ff00"/>
<rect x="1108" y="612" width="3" height="19" fill="#00ff00"/>
<rect x="1124" y="612" width="3" height="19" fill="#00ff00"/>
<rect x="1140" y="618" width="3" height="13" fill="#00ff00"/>
<rect x="1156" y="621" width="3" height="10" fill="#00ff00"/>
<rect x="1172" y="623" width="3" height="8" fill="#00ff00"/>
<rect x="1188" y="623" width="3" height="8" fill="#00ff00"/>
<rect x="1204" y="618" width="3" height="13" fill="#00ff00"/>
<rect x="1220" y="626" width="3" height="5" fill="#00ff00"/>
<rect x="1236" y="631" width="3" height="6" fill="#00ff00"/>
<rect x="1252" y="631" width="3" height="14" fill="#00ff00"/>
</g>
<polyline points="5.5,649.1 21.5,649.1 37.5,649.1 53.5,651.3 69.5,653.5 85.5,656.5 101.5,658.1 117.5,661.1 133.5,664.4 149.5,668.2 165.5,672.5 181.5,676.6 197.5,679.6 213.5,682.4 229.5,685.4 245.5,687.3 261.5,690.3 277.5,690.8 293.5,693.3 309.5,693.8 325.5,693.5 341.5,692.7 357.5,691.4 373.5,688.4 389.5,684.8 405.5,680.7 421.5,676.6 437.5,671.7 453.5,665.5 469.5,661.4 485.5,658.9 501.5,658.1 517.5,658.4 533.5,658.9 549.5,661.6 565.5,663.3 581.5,666.0 597.5,669.8 613.5,670.6 629.5,670.6 645.5,670.1 661.5,669.3 677.5,669.0 693.5,669.8 709.5,670.4 725.5,671.4 741.5,672.3 757.5,673.1 773.5,674.5 789.5,674.5 805.5,674.5 821.5,674.0 837.5,671.4 853.5,667.6 869.5,663.8 885.5,659.4 901.5,654.5 917.5,651.0 933.5,646.9 949.5,642.3 965.5,639.5 981.5,636.3 997.5,632.2 1013.5,628.1 1029.5,625.1 1045.5,620.5 1061.5,617.7 1077.5,615.5 1093.5,613.6 1109.5,612.8 1125.5,612.0 1141.5,612.0 1157.5,613.1 1173.5,615.5 1189.5,616.4 1205.5,617.5 1221.5,619.5 1237.5,621.7 1253.5,624.8" fill="none" stroke="#ff0000" stroke-width="2" stroke-linejoin="round" shape-rendering="crispEdges"/>
<text transform="translate(9.1,617) rotate(0.05) scale(0.9272,1)" font-family="Liberation Sans, sans-serif" font-size="10.2" fill="#000" stroke="#000" stroke-width="0.25">MACD(12,26,9) -0.3691 0.1590</text>
<text transform="translate(1615.6,615) rotate(0.05) scale(0.9147,1)" font-family="Liberation Sans, sans-serif" font-size="10.2" fill="#000" stroke="#000" stroke-width="0.25">0.6825</text>
<text transform="translate(1615.6,635) rotate(0.05) scale(0.9147,1)" font-family="Liberation Sans, sans-serif" font-size="10.2" fill="#000" stroke="#000" stroke-width="0.25">0.00</text>
<text transform="translate(1615.6,703) rotate(0.05) scale(0.9147,1)" font-family="Liberation Sans, sans-serif" font-size="10.2" fill="#000" stroke="#000" stroke-width="0.25">-2.0377</text>
<line x1="6" y1="728.5" x2="1612" y2="728.5" stroke="#000" stroke-width="1" stroke-dasharray="3,3" shape-rendering="crispEdges"/>
<line x1="6" y1="755.5" x2="1612" y2="755.5" stroke="#000" stroke-width="1" stroke-dasharray="3,3" shape-rendering="crispEdges"/>
<line x1="6" y1="788.5" x2="1612" y2="788.5" stroke="#000" stroke-width="1" stroke-dasharray="3,3" shape-rendering="crispEdges"/>
<polyline points="5.5,765.8 21.5,763.6 37.5,765.5 53.5,771.8 69.5,771.8 85.5,771.8 101.5,769.1 117.5,771.3 133.5,775.9 149.5,780.0 165.5,773.2 181.5,772.9 197.5,769.9 213.5,769.9 229.5,772.9 245.5,772.6 261.5,770.4 277.5,769.9 293.5,780.0 309.5,760.9 325.5,760.1 341.5,759.3 357.5,757.1 373.5,754.9 389.5,753.8 405.5,756.5 421.5,756.4 437.5,757.6 453.5,754.6 469.5,765.5 485.5,767.7 501.5,767.7 517.5,767.7 533.5,765.5 549.5,766.6 565.5,766.6 581.5,765.3 597.5,763.6 613.5,761.4 629.5,760.4 645.5,757.4 661.5,764.4 677.5,769.6 693.5,774.8 709.5,774.8 725.5,774.8 741.5,761.7 757.5,763.1 773.5,763.1 789.5,753.0 805.5,752.7 821.5,752.7 837.5,757.6 853.5,757.6 869.5,756.0 885.5,755.7 901.5,756.8 917.5,750.8 933.5,748.9 949.5,748.9 965.5,748.9 981.5,748.9 997.5,746.7 1013.5,744.8 1029.5,744.8 1045.5,750.5 1061.5,750.5 1077.5,749.7 1093.5,753.0 1109.5,748.6 1125.5,752.7 1141.5,758.7 1157.5,758.7 1173.5,756.5 1189.5,753.8 1205.5,746.8 1221.5,763.5 1237.5,767.8 1253.5,767.8" fill="none" stroke="#1e90ff" stroke-width="2" stroke-linejoin="round" shape-rendering="crispEdges"/>
<text transform="translate(9.2,721) rotate(0.05) scale(0.9175,1)" font-family="Liberation Sans, sans-serif" font-size="10.2" fill="#000" stroke="#000" stroke-width="0.25">RSI(14) 36.5356</text>
<text transform="translate(1615.6,719) rotate(0.05) scale(0.9147,1)" font-family="Liberation Sans, sans-serif" font-size="10.2" fill="#000" stroke="#000" stroke-width="0.25">100</text>
<text transform="translate(1615.6,732) rotate(0.05) scale(0.9147,1)" font-family="Liberation Sans, sans-serif" font-size="10.2" fill="#000" stroke="#000" stroke-width="0.25">80</text>
<text transform="translate(1615.6,759) rotate(0.05) scale(0.9147,1)" font-family="Liberation Sans, sans-serif" font-size="10.2" fill="#000" stroke="#000" stroke-width="0.25">50</text>
<text transform="translate(1615.6,792) rotate(0.05) scale(0.9147,1)" font-family="Liberation Sans, sans-serif" font-size="10.2" fill="#000" stroke="#000" stroke-width="0.25">15</text>
<text transform="translate(1615.6,799) rotate(0.05) scale(0.9147,1)" font-family="Liberation Sans, sans-serif" font-size="10.2" fill="#000" stroke="#000" stroke-width="0.25">0</text>
<rect x="5" y="803" width="1" height="3" fill="#000" shape-rendering="crispEdges"/>
<text transform="translate(4.6,815) rotate(0.05) scale(0.9272,1)" font-family="Liberation Sans, sans-serif" font-size="10.2" fill="#000" stroke="#000" stroke-width="0.25">17 Nov 2022</text>
<rect x="69" y="803" width="1" height="3" fill="#000" shape-rendering="crispEdges"/>
<text transform="translate(68.6,815) rotate(0.05) scale(0.9272,1)" font-family="Liberation Sans, sans-serif" font-size="10.2" fill="#000" stroke="#000" stroke-width="0.25">17 Nov 17:00</text>
<rect x="133" y="803" width="1" height="3" fill="#000" shape-rendering="crispEdges"/>
<text transform="translate(132.6,815) rotate(0.05) scale(0.9272,1)" font-family="Liberation Sans, sans-serif" font-size="10.2" fill="#000" stroke="#000" stroke-width="0.25">18 Nov 09:00</text>
<rect x="197" y="803" width="1" height="3" fill="#000" shape-rendering="crispEdges"/>
<text transform="translate(196.6,815) rotate(0.05) scale(0.9272,1)" font-family="Liberation Sans, sans-serif" font-size="10.2" fill="#000" stroke="#000" stroke-width="0.25">18 Nov 21:00</text>
<rect x="261" y="803" width="1" height="3" fill="#000" shape-rendering="crispEdges"/>
<text transform="translate(260.6,815) rotate(0.05) scale(0.9272,1)" font-family="Liberation Sans, sans-serif" font-size="10.2" fill="#000" stroke="#000" stroke-width="0.25">21 Nov 05:00</text>
<rect x="325" y="803" width="1" height="3" fill="#000" shape-rendering="crispEdges"/>
<text transform="translate(324.6,815) rotate(0.05) scale(0.9272,1)" font-family="Liberation Sans, sans-serif" font-size="10.2" fill="#000" stroke="#000" stroke-width="0.25">21 Nov 21:00</text>
<rect x="389" y="803" width="1" height="3" fill="#000" shape-rendering="crispEdges"/>
<text transform="translate(388.6,815) rotate(0.05) scale(0.9272,1)" font-family="Liberation Sans, sans-serif" font-size="10.2" fill="#000" stroke="#000" stroke-width="0.25">22 Nov 13:00</text>
<rect x="453" y="803" width="1" height="3" fill="#000" shape-rendering="crispEdges"/>
<text transform="translate(452.6,815) rotate(0.05) scale(0.9272,1)" font-family="Liberation Sans, sans-serif" font-size="10.2" fill="#000" stroke="#000" stroke-width="0.25">23 Nov 05:00</text>
<rect x="517" y="803" width="1" height="3" fill="#000" shape-rendering="crispEdges"/>
<text transform="translate(516.6,815) rotate(0.05) scale(0.9272,1)" font-family="Liberation Sans, sans-serif" font-size="10.2" fill="#000" stroke="#000" stroke-width="0.25">23 Nov 21:00</text>
<rect x="581" y="803" width="1" height="3" fill="#000" shape-rendering="crispEdges"/>
<text transform="translate(580.6,815) rotate(0.05) scale(0.9272,1)" font-family="Liberation Sans, sans-serif" font-size="10.2" fill="#000" stroke="#000" stroke-width="0.25">24 Nov 13:00</text>
<rect x="645" y="803" width="1" height="3" fill="#000" shape-rendering="crispEdges"/>
<text transform="translate(644.6,815) rotate(0.05) scale(0.9272,1)" font-family="Liberation Sans, sans-serif" font-size="10.2" fill="#000" stroke="#000" stroke-width="0.25">25 Nov 09:00</text>
<rect x="709" y="803" width="1" height="3" fill="#000" shape-rendering="crispEdges"/>
<text transform="translate(708.6,815) rotate(0.05) scale(0.9272,1)" font-family="Liberation Sans, sans-serif" font-size="10.2" fill="#000" stroke="#000" stroke-width="0.25">28 Nov 05:00</text>
<rect x="773" y="803" width="1" height="3" fill="#000" shape-rendering="crispEdges"/>
<text transform="translate(772.6,815) rotate(0.05) scale(0.9272,1)" font-family="Liberation Sans, sans-serif" font-size="10.2" fill="#000" stroke="#000" stroke-width="0.25">28 Nov 21:00</text>
<rect x="837" y="803" width="1" height="3" fill="#000" shape-rendering="crispEdges"/>
<text transform="translate(836.6,815) rotate(0.05) scale(0.9272,1)" font-family="Liberation Sans, sans-serif" font-size="10.2" fill="#000" stroke="#000" stroke-width="0.25">29 Nov 13:00</text>
<rect x="901" y="803" width="1" height="3" fill="#000" shape-rendering="crispEdges"/>
<text transform="translate(900.6,815) rotate(0.05) scale(0.9272,1)" font-family="Liberation Sans, sans-serif" font-size="10.2" fill="#000" stroke="#000" stroke-width="0.25">30 Nov 05:00</text>
<rect x="965" y="803" width="1" height="3" fill="#000" shape-rendering="crispEdges"/>
<text transform="translate(964.6,815) rotate(0.05) scale(0.9272,1)" font-family="Liberation Sans, sans-serif" font-size="10.2" fill="#000" stroke="#000" stroke-width="0.25">30 Nov 21:00</text>
<rect x="1029" y="803" width="1" height="3" fill="#000" shape-rendering="crispEdges"/>
<text transform="translate(1028.6,815) rotate(0.05) scale(0.9272,1)" font-family="Liberation Sans, sans-serif" font-size="10.2" fill="#000" stroke="#000" stroke-width="0.25">1 Dec 13:00</text>
<rect x="1093" y="803" width="1" height="3" fill="#000" shape-rendering="crispEdges"/>
<text transform="translate(1092.6,815) rotate(0.05) scale(0.9272,1)" font-family="Liberation Sans, sans-serif" font-size="10.2" fill="#000" stroke="#000" stroke-width="0.25">2 Dec 05:00</text>
<rect x="1157" y="803" width="1" height="3" fill="#000" shape-rendering="crispEdges"/>
<text transform="translate(1156.6,815) rotate(0.05) scale(0.9272,1)" font-family="Liberation Sans, sans-serif" font-size="10.2" fill="#000" stroke="#000" stroke-width="0.25">2 Dec 21:00</text>
<rect x="1221" y="803" width="1" height="3" fill="#000" shape-rendering="crispEdges"/>
<text transform="translate(1220.6,815) rotate(0.05) scale(0.9272,1)" font-family="Liberation Sans, sans-serif" font-size="10.2" fill="#000" stroke="#000" stroke-width="0.25">5 Dec 13:00</text>
<line x1="1289.5" y1="352.8" x2="1349" y2="464" stroke="#4e9a2e" stroke-width="4.1" stroke-linecap="butt"/>
<polygon points="1341.1,467.1 1355.9,459.1 1356.4,477.8" fill="#4e9a2e"/></svg>
</body></html>
